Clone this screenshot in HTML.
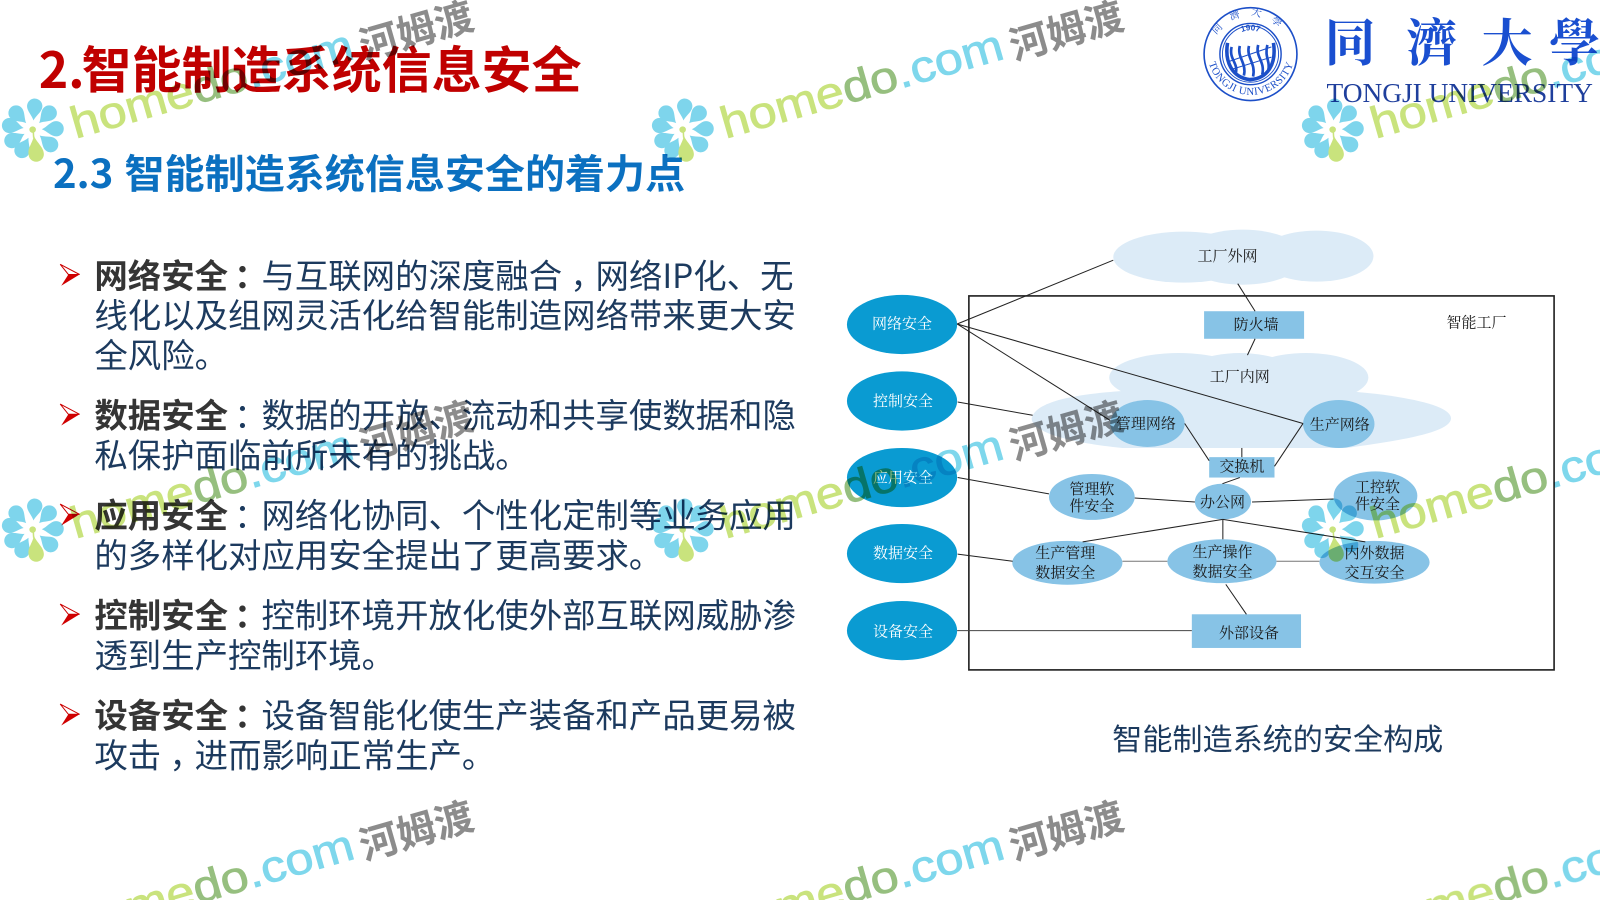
<!DOCTYPE html>
<html lang="zh-CN">
<head>
<meta charset="utf-8">
<title>智能制造系统信息安全</title>
<style>
html,body{margin:0;padding:0;background:#fff;width:1600px;height:900px;overflow:hidden}
#f{width:1600px;height:900px;overflow:hidden;position:relative}
svg{display:block}
.s{font-family:"Noto Sans CJK SC",sans-serif}
.b{font-family:"Noto Sans CJK SC",sans-serif;font-size:32.75px;fill:#1c3a5e}
.b .k{font-weight:700;fill:#353535}
.b .c{font-family:"Noto Sans CJK TC",sans-serif}
.l{font-family:"Noto Serif CJK SC",serif;font-size:14.7px;fill:#1a1a1a;text-anchor:middle}
.w{fill:#fff}
.ln{stroke:#222;stroke-width:1;fill:none}
.g{font-family:"Liberation Sans",sans-serif;font-size:49.5px;stroke-width:0.9}
.g1{fill:#c3e06e;stroke:#c3e06e}
.g2{fill:#8ab870;stroke:#8ab870}
.g3{fill:#6fd3ea;stroke:#6fd3ea}
.h{font-family:"Noto Sans CJK SC",sans-serif;font-size:38px;font-weight:700;fill:#7f7f7f}
</style>
</head>
<body>
<div id="f">
<svg xmlns="http://www.w3.org/2000/svg" width="1600" height="900" viewBox="0 0 1568 882">
<defs>
<g id="ar">
<path d="M0,-10 L19,0 L8,0 Z" fill="#fff" stroke="#c00" stroke-width="1"/>
<path d="M19,0 L8,0 L1,11 Z" fill="#d00000"/>
</g>
<path id="pt" d="M0,-9 C-2,-14 -7.5,-18 -7.5,-23 A7.5,7.5 0 0 1 7.5,-23 C7.5,-18 2,-14 0,-9 Z" fill="#6fd0ea"/>
<g id="fl" transform="translate(32,127)">
<use href="#pt" transform="rotate(5)"/>
<use href="#pt" transform="rotate(45)"/>
<use href="#pt" transform="rotate(88)"/>
<use href="#pt" transform="rotate(130)"/>
<use href="#pt" transform="rotate(-45)"/>
<use href="#pt" transform="rotate(-80)"/>
<use href="#pt" transform="rotate(-118)"/>
<use href="#pt" transform="rotate(-153)"/>
<path d="M1,5 C1,12 -5,17 -4,24 A7.5,7.5 0 0 0 11,24 C11,17 3,12 1,5 Z" fill="#c3e06e"/>
<circle cx="0" cy="0" r="3.2" fill="#c3e06e"/>
<line x1="0.5" y1="0" x2="1" y2="8" stroke="#c3e06e" stroke-width="1.5"/>
</g>
<path id="sealTop" d="M1188,53 A37.5,37.5 0 0 1 1263,53"/>
<path id="sealBot" d="M1183,50 A43,43 0 0 0 1269,50"/>
<path id="seal19" d="M1203,48 A23,23 0 0 1 1248,48"/>
</defs>

<!-- Headings -->
<text class="s" x="38" y="86" font-size="49" font-weight="700" fill="#c00000">2.<tspan x="80">智能制造系统信息安全</tspan></text>
<text class="s" x="52" y="184" font-size="39.25" font-weight="700" fill="#0b70c0">2.3<tspan x="122">智能制造系统信息安全的着力点</tspan></text>

<!-- Bullets -->
<use href="#ar" x="59" y="269"/>
<use href="#ar" x="59" y="406"/>
<use href="#ar" x="59" y="504"/>
<use href="#ar" x="59" y="602"/>
<use href="#ar" x="59" y="700"/>

<!-- Body -->
<text class="b" x="92.5" y="282"><tspan class="k">网络安全</tspan><tspan class="c k" dx="6">：</tspan><tspan dx="-6">与互联网的深度融合</tspan><tspan dx="8">，</tspan><tspan dx="-8">网络IP化、无</tspan></text>
<text class="b" x="92.5" y="321">线化以及组网灵活化给智能制造网络带来更大安</text>
<text class="b" x="92.5" y="360">全风险。</text>
<text class="b" x="92.5" y="419"><tspan class="k">数据安全</tspan><tspan class="c" dx="6">：</tspan><tspan dx="-6">数据的开放、流动和共享使数据和隐</tspan></text>
<text class="b" x="92.5" y="458">私保护面临前所未有的挑战。</text>
<text class="b" x="92.5" y="517"><tspan class="k">应用安全</tspan><tspan class="c" dx="6">：</tspan><tspan dx="-6">网络化协同、个性化定制等业务应用</tspan></text>
<text class="b" x="92.5" y="556">的多样化对应用安全提出了更高要求。</text>
<text class="b" x="92.5" y="615"><tspan class="k">控制安全</tspan><tspan class="c k" dx="6">：</tspan><tspan dx="-6">控制环境开放化使外部互联网威胁渗</tspan></text>
<text class="b" x="92.5" y="654">透到生产控制环境。</text>
<text class="b" x="92.5" y="713"><tspan class="k">设备安全</tspan><tspan class="c k" dx="6">：</tspan><tspan dx="-6">设备智能化使生产装备和产品更易被</tspan></text>
<text class="b" x="92.5" y="752">攻击<tspan dx="8">，</tspan><tspan dx="-8">进而影响正常生产。</tspan></text>

<!-- Logo -->
<g fill="none" stroke="#1c4fc8">
<circle cx="1225.5" cy="53" r="45.5" stroke-width="1.6"/>
<circle cx="1225.5" cy="53" r="30" stroke-width="1.4"/>
<circle cx="1225.5" cy="53" r="27.5" stroke-width="0.9"/>
<path d="M1203,42 C1200,60 1207,76 1225,78 C1243,77 1251,62 1248,42" stroke-width="3.5"/>
<path d="M1207,46 C1204,58 1214,62 1211,72 M1215,45 C1212,56 1222,62 1219,74 M1224,45 C1221,56 1231,62 1228,75 M1233,44 C1230,56 1240,60 1237,73 M1242,44 C1239,56 1245,60 1243,68" stroke-width="2.6"/>
<path d="M1205,60 L1246,46 M1207,68 L1246,56" stroke-width="1"/>
</g>
<text font-family="Liberation Sans,sans-serif" font-size="8" font-weight="700" fill="#1c4fc8"><textPath href="#seal19" startOffset="50%" text-anchor="middle">1907</textPath></text>
<text font-family="Noto Serif CJK SC,serif" font-size="10" fill="#1c4fc8"><textPath href="#sealTop" startOffset="50%" text-anchor="middle" letter-spacing="10">同濟大學</textPath></text>
<text font-family="Liberation Serif,serif" font-size="10.5" fill="#1c4fc8"><textPath href="#sealBot" startOffset="50%" text-anchor="middle" letter-spacing="0.5">TONGJI UNIVERSITY</textPath></text>
<text font-family="Noto Serif CJK TC,Noto Serif CJK SC,serif" font-size="50" font-weight="700" fill="#1a4fd0" y="60">
<tspan x="1298">同</tspan><tspan x="1378">濟</tspan><tspan x="1452">大</tspan><tspan x="1518">學</tspan></text>
<text font-family="Liberation Serif,serif" font-size="27" fill="#1f3f9c" x="1300" y="100" textLength="261" lengthAdjust="spacingAndGlyphs">TONGJI UNIVERSITY</text>

<!-- Diagram: clouds -->
<g fill="#dcebf7">
<ellipse cx="1160" cy="252" rx="69" ry="25"/>
<ellipse cx="1218" cy="252" rx="60" ry="27"/>
<ellipse cx="1290" cy="251" rx="56" ry="25"/>
<ellipse cx="1155" cy="370" rx="68" ry="24"/>
<ellipse cx="1215" cy="372" rx="60" ry="26"/>
<ellipse cx="1280" cy="370" rx="61" ry="24"/>
<path d="M1011,410 C1015,392 1060,385 1120,382 L1300,382 C1370,386 1422,396 1422,410 C1422,424 1370,432 1320,439 L1100,439 C1050,434 1011,424 1011,410 Z"/>
</g>
<!-- Frame -->
<rect x="949.5" y="290" width="573.5" height="366.5" fill="none" stroke="#222" stroke-width="1.6"/>

<!-- Nodes -->
<g fill="#0a9bd2">
<ellipse cx="884" cy="318" rx="54" ry="29"/>
<ellipse cx="884" cy="393" rx="54" ry="29"/>
<ellipse cx="884" cy="468" rx="54" ry="29"/>
<ellipse cx="884" cy="542.5" rx="54" ry="29"/>
<ellipse cx="884" cy="618" rx="54" ry="29"/>
</g>
<g fill="#87c3e6">
<rect x="1180" y="305" width="98" height="27"/>
<rect x="1185" y="448" width="64" height="20"/>
<rect x="1168" y="602" width="107" height="33"/>
<ellipse cx="1124.5" cy="415" rx="36.5" ry="23"/>
<ellipse cx="1312" cy="415.5" rx="35" ry="23.5"/>
<ellipse cx="1198.5" cy="491.5" rx="27.5" ry="17.5"/>
<ellipse cx="1070" cy="487" rx="42" ry="22.5"/>
<ellipse cx="1348" cy="486" rx="41" ry="24"/>
<ellipse cx="1046" cy="551.5" rx="54" ry="21.5"/>
<ellipse cx="1197.5" cy="550" rx="53.5" ry="21.5"/>
<ellipse cx="1347" cy="551" rx="54" ry="21"/>
</g>

<!-- Connectors -->
<g class="ln">
<line x1="938" y1="317.5" x2="1091" y2="255"/>
<line x1="938" y1="317.5" x2="1088" y2="412"/>
<line x1="938" y1="317.5" x2="1277" y2="415"/>
<line x1="938.5" y1="394" x2="1012" y2="407"/>
<line x1="1213" y1="278" x2="1230" y2="305"/>
<line x1="1230" y1="332" x2="1222.5" y2="348"/>
<line x1="1161" y1="415" x2="1185" y2="451.5"/>
<line x1="1277" y1="415" x2="1249" y2="457"/>
<line x1="1217" y1="439" x2="1217" y2="448"/>
<line x1="1215" y1="468" x2="1198" y2="474"/>
<line x1="938.5" y1="468" x2="1028" y2="484"/>
<line x1="1112" y1="488" x2="1171" y2="492"/>
<line x1="1227" y1="492" x2="1307" y2="489"/>
<line x1="1198.4" y1="509" x2="1061" y2="531"/>
<line x1="1198.4" y1="509" x2="1198.4" y2="528.5"/>
<line x1="1198.4" y1="509" x2="1338" y2="531"/>
<line x1="938.5" y1="543" x2="992.4" y2="550"/>
<line x1="1100" y1="550" x2="1144" y2="550" style="stroke:#777"/>
<line x1="1251" y1="550" x2="1293" y2="550" style="stroke:#777"/>
<line x1="1201.3" y1="572.7" x2="1221.5" y2="602"/>
<line x1="938" y1="618" x2="1168" y2="618" style="stroke:#444"/>
</g>

<!-- Node labels -->
<text class="l w" x="884" y="322">网络安全</text>
<text class="l w" x="885" y="398">控制安全</text>
<text class="l w" x="885" y="473">应用安全</text>
<text class="l w" x="885" y="547">数据安全</text>
<text class="l w" x="885" y="624">设备安全</text>
<text class="l" x="1203" y="256">工厂外网</text>
<text class="l" x="1231" y="323">防火墙</text>
<text class="l" x="1447" y="321">智能工厂</text>
<text class="l" x="1215" y="374">工厂内网</text>
<text class="l" x="1123" y="420">管理网络</text>
<text class="l" x="1313" y="421">生产网络</text>
<text class="l" x="1217" y="462">交换机</text>
<text class="l" x="1198" y="497">办公网</text>
<text class="l" x="1070" y="484">管理软</text>
<text class="l" x="1070" y="501">件安全</text>
<text class="l" x="1350" y="482">工控软</text>
<text class="l" x="1350" y="499">件安全</text>
<text class="l" x="1044" y="547">生产管理</text>
<text class="l" x="1044" y="566">数据安全</text>
<text class="l" x="1198" y="546">生产操作</text>
<text class="l" x="1198" y="565">数据安全</text>
<text class="l" x="1347" y="547">内外数据</text>
<text class="l" x="1347" y="566">交互安全</text>
<text class="l" x="1224" y="625">外部设备</text>

<text class="s" x="1090" y="735" font-size="29.5" fill="#1c3a5e">智能制造系统的安全构成</text>

<!-- Watermarks -->
<g opacity="0.9" style="mix-blend-mode:multiply">
<g transform="translate(0,0)"><use href="#fl"/><text class="g" transform="translate(74,136) rotate(-16) scale(1,.88)"><tspan class="g1">home</tspan><tspan class="g2">do</tspan><tspan class="g3">.com</tspan></text><text class="h" transform="translate(357,59) rotate(-16)">河姆渡</text></g>
<g transform="translate(637,0)"><use href="#fl"/><text class="g" transform="translate(74,136) rotate(-16) scale(1,.88)"><tspan class="g1">home</tspan><tspan class="g2">do</tspan><tspan class="g3">.com</tspan></text><text class="h" transform="translate(357,59) rotate(-16)">河姆渡</text></g>
<g transform="translate(1274,0)"><use href="#fl"/><text class="g" transform="translate(74,136) rotate(-16) scale(1,.88)"><tspan class="g1">home</tspan><tspan class="g2">do</tspan><tspan class="g3">.com</tspan></text></g>
<g transform="translate(0,392)"><use href="#fl"/><text class="g" transform="translate(74,136) rotate(-16) scale(1,.88)"><tspan class="g1">home</tspan><tspan class="g2">do</tspan><tspan class="g3">.com</tspan></text><text class="h" transform="translate(357,59) rotate(-16)">河姆渡</text></g>
<g transform="translate(637,392)"><use href="#fl"/><text class="g" transform="translate(74,136) rotate(-16) scale(1,.88)"><tspan class="g1">home</tspan><tspan class="g2">do</tspan><tspan class="g3">.com</tspan></text><text class="h" transform="translate(357,59) rotate(-16)">河姆渡</text></g>
<g transform="translate(1274,392)"><use href="#fl"/><text class="g" transform="translate(74,136) rotate(-16) scale(1,.88)"><tspan class="g1">home</tspan><tspan class="g2">do</tspan><tspan class="g3">.com</tspan></text></g>
<g transform="translate(0,784)"><text class="g" transform="translate(127.5,120.7) rotate(-16) scale(1,.88)"><tspan class="g1">me</tspan><tspan class="g2">do</tspan><tspan class="g3">.com</tspan></text><text class="h" transform="translate(357,59) rotate(-16)">河姆渡</text></g>
<g transform="translate(637,784)"><text class="g" transform="translate(127.5,120.7) rotate(-16) scale(1,.88)"><tspan class="g1">me</tspan><tspan class="g2">do</tspan><tspan class="g3">.com</tspan></text><text class="h" transform="translate(357,59) rotate(-16)">河姆渡</text></g>
<g transform="translate(1274,784)"><text class="g" transform="translate(127.5,120.7) rotate(-16) scale(1,.88)"><tspan class="g1">me</tspan><tspan class="g2">do</tspan><tspan class="g3">.com</tspan></text></g>
</g>
</svg>
</div>
</body>
</html>
